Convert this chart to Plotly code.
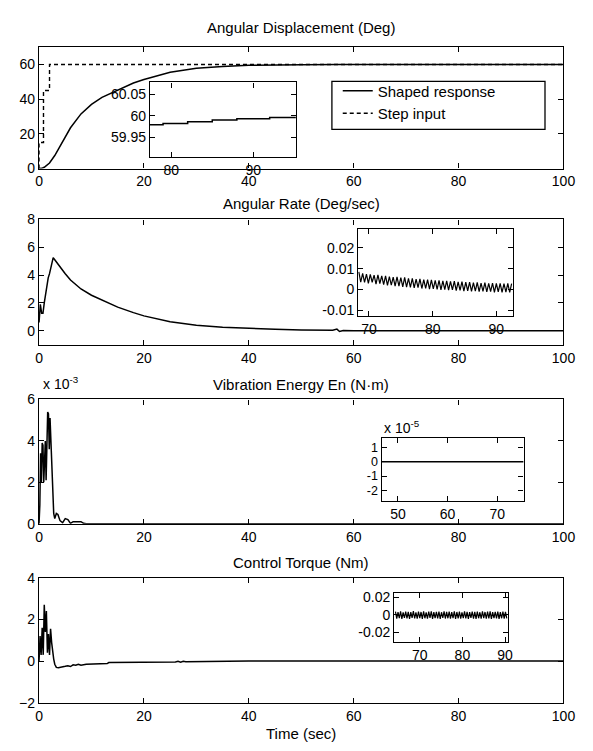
import plotly.graph_objects as go

W, H = 593, 751

# ---------------- data ----------------
# Plot 1: angular displacement (deg)
t_shaped = [0, 0.5, 1, 2, 3, 4, 5, 6, 8, 10, 12, 15, 18, 20, 25, 30, 35, 40, 45, 50, 57, 100]
y_shaped = [0, 0.1, 0.7, 3.2, 7.5, 13, 18.3, 23.5, 31.5, 37, 41, 45.3, 49.3, 51.3, 55.5, 57.8, 58.9, 59.5, 59.8, 59.9, 60, 60]
t_step = [0, 0, 0.85, 0.85, 2.0, 2.0, 100]
y_step = [0, 15, 15, 45, 45, 60, 60]
t_disp_zoom = [77.4, 79.0, 79.0, 82.0, 82.0, 85.0, 85.0, 88.0, 88.0, 92.0, 92.0, 95.2]
y_disp_zoom = [59.979, 59.979, 59.982, 59.982, 59.986, 59.986, 59.990, 59.990, 59.993, 59.993, 59.996, 59.996]

# Plot 2: angular rate (deg/sec)
t_rate = [0, 0.25, 0.5, 0.75, 1.0, 1.25, 1.5, 1.75, 2.0, 2.3, 2.7, 3.0, 3.5, 4, 5, 6, 8, 10, 12, 15, 18, 20,
          25, 30, 35, 40, 45, 50, 56, 56.8, 57.3, 58, 60, 100]
rate = [0.6, 1.9, 1.25, 1.25, 2.0, 2.6, 3.5, 3.8, 4.1, 4.7, 5.25, 5.1, 4.85, 4.55, 4.1, 3.65, 3.0, 2.55, 2.2,
        1.7, 1.3, 1.07, 0.65, 0.4, 0.25, 0.16, 0.1, 0.05, 0.03, 0.12, -0.05, 0.02, 0, 0]
t_rate_zoom = [68.4, 68.7, 69.0, 69.3, 69.6, 69.9, 70.2, 70.5, 70.8, 71.1, 71.4, 71.7, 72.0, 72.3, 72.6, 72.9,
               73.2, 73.5, 73.8, 74.1, 74.4, 74.7, 75.0, 75.3, 75.6, 75.9, 76.2, 76.5, 76.8, 77.1, 77.4, 77.7,
               78.0, 78.3, 78.6, 78.9, 79.2, 79.5, 79.8, 80.1, 80.4, 80.7, 81.0, 81.3, 81.6, 81.9, 82.2, 82.5,
               82.8, 83.1, 83.4, 83.7, 84.0, 84.3, 84.6, 84.9, 85.2, 85.5, 85.8, 86.1, 86.4, 86.7, 87.0, 87.3,
               87.6, 87.9, 88.2, 88.5, 88.8, 89.1, 89.4, 89.7, 90.0, 90.3, 90.6, 90.9, 91.2, 91.5, 91.8, 92.1, 92.4]
rate_zoom = [0.0085, 0.0036, 0.0078, 0.0034, 0.0074, 0.0030, 0.0073, 0.0035, 0.0069, 0.0026, 0.0070, 0.0029,
             0.0065, 0.0024, 0.0066, 0.0020, 0.0062, 0.0021, 0.0060, 0.0016, 0.0061, 0.0017, 0.0057, 0.0013,
             0.0058, 0.0012, 0.0054, 0.0011, 0.0054, 0.0008, 0.0050, 0.0009, 0.0051, 0.0005, 0.0047, 0.0006,
             0.0048, 0.0002, 0.0046, 0.0003, 0.0044, 0.0001, 0.0044, -0.0001, 0.0041, 0.0000, 0.0042, -0.0003,
             0.0039, -0.0002, 0.0040, -0.0005, 0.0037, -0.0004, 0.0038, -0.0007, 0.0035, -0.0006, 0.0036,
             -0.0009, 0.0033, -0.0007, 0.0034, -0.0010, 0.0031, -0.0009, 0.0033, -0.0011, 0.0030, -0.0010,
             0.0031, -0.0013, 0.0029, -0.0011, 0.0030, -0.0014, 0.0028, -0.0012, 0.0029, -0.0014, 0.0028]

# Plot 3: vibration energy (x 1e-3 N.m)
t_en = [0, 0.15, 0.3, 0.45, 0.6, 0.75, 0.9, 1.05, 1.2, 1.35, 1.5, 1.65, 1.8, 1.95, 2.1, 2.25, 2.4, 2.6, 2.8,
        3.0, 3.3, 3.6, 4.0, 4.5, 5.0, 5.5, 6.0, 6.5, 7.0, 7.5, 8.0, 8.5, 9.0, 100]
en = [0, 0.9, 3.4, 2.0, 3.9, 3.8, 2.0, 3.9, 4.0, 2.1, 4.0, 5.4, 5.3, 3.6, 5.1, 4.0, 2.4, 1.2, 0.5, 0.25,
      0.5, 0.45, 0.15, 0.05, 0.25, 0.2, 0.02, 0.1, 0.1, 0.12, 0.1, 0.02, 0, 0]
t_en_zoom = [46.7, 75.3]
en_zoom = [0, 0]  # x 1e-5

# Plot 4: control torque (Nm)
t_tq = [0, 0.2, 0.4, 0.6, 0.8, 1.0, 1.2, 1.4, 1.6, 1.8, 2.0, 2.2, 2.4, 2.6, 2.8, 3.0, 3.3, 3.7, 4.2, 5, 5.5,
        6, 6.5, 7, 7.5, 8, 9, 10, 13, 13.3, 20, 26, 26.5, 27, 27.5, 28, 40, 100]
tq = [0, 1.2, 0.3, 1.6, 0.3, 2.7, 1.4, 2.4, 0.4, 1.3, 0.3, 1.55, 0.9, 0.4, 0.1, -0.15, -0.3, -0.32, -0.28,
      -0.25, -0.22, -0.26, -0.18, -0.2, -0.15, -0.2, -0.15, -0.14, -0.12, -0.07, -0.06, -0.04, -0.01, -0.05,
      -0.01, -0.03, 0, 0]
t_tq_zoom = [64.3, 64.6, 64.9, 65.2, 65.5, 65.8, 66.1, 66.4, 66.7, 67.0, 67.3, 67.6, 67.9, 68.2, 68.5, 68.8,
             69.1, 69.4, 69.7, 70.0, 70.3, 70.6, 70.9, 71.2, 71.5, 71.8, 72.1, 72.4, 72.7, 73.0, 73.3, 73.6,
             73.9, 74.2, 74.5, 74.8, 75.1, 75.4, 75.7, 76.0, 76.3, 76.6, 76.9, 77.2, 77.5, 77.8, 78.1, 78.4,
             78.7, 79.0, 79.3, 79.6, 79.9, 80.2, 80.5, 80.8, 81.1, 81.4, 81.7, 82.0, 82.3, 82.6, 82.9, 83.2,
             83.5, 83.8, 84.1, 84.4, 84.7, 85.0, 85.3, 85.6, 85.9, 86.2, 86.5, 86.8, 87.1, 87.4, 87.7, 88.0,
             88.3, 88.6, 88.9, 89.2, 89.5, 89.8, 90.1, 90.4]
tq_zoom = [0.0035, -0.0042, 0.0031, -0.0038, 0.0040, -0.0045, 0.0028, -0.0036, 0.0037, -0.0041, 0.0033,
           -0.0047, 0.0030, -0.0035, 0.0041, -0.0040, 0.0029, -0.0044, 0.0036, -0.0037, 0.0032, -0.0046,
           0.0038, -0.0039, 0.0027, -0.0043, 0.0035, -0.0036, 0.0039, -0.0045, 0.0031, -0.0038, 0.0034,
           -0.0041, 0.0037, -0.0047, 0.0029, -0.0036, 0.0040, -0.0042, 0.0033, -0.0039, 0.0036, -0.0044,
           0.0030, -0.0037, 0.0038, -0.0046, 0.0032, -0.0040, 0.0035, -0.0043, 0.0028, -0.0038, 0.0039,
           -0.0041, 0.0034, -0.0045, 0.0031, -0.0036, 0.0037, -0.0042, 0.0033, -0.0047, 0.0036, -0.0039,
           0.0029, -0.0044, 0.0040, -0.0037, 0.0032, -0.0043, 0.0035, -0.0040, 0.0038, -0.0046, 0.0030,
           -0.0038, 0.0034, -0.0041, 0.0036, -0.0045, 0.0031, -0.0039, 0.0037, -0.0042, 0.0033, -0.0040]

main_xticks = [0, 20, 40, 60, 80, 100]

# ---------------- layout helpers ----------------
FONT = "Liberation Sans, Arial, sans-serif"
TICKFONT = dict(family=FONT, size=14, color="black")


def xdom(a, b):
    return [a / W, b / W]


def ydom(top, bottom):
    return [1 - bottom / H, 1 - top / H]


def axis(domain, rng, tickvals, anchor, ticktext=None, fontsize=14):
    d = dict(domain=domain, range=rng, tickvals=tickvals, anchor=anchor,
             ticks="inside", ticklen=5, tickwidth=1, tickcolor="black",
             showline=True, linecolor="black", linewidth=1.3, mirror="ticks",
             showgrid=False, zeroline=False,
             tickfont=dict(family=FONT, size=fontsize, color="black"), fixedrange=True)
    if ticktext is not None:
        d["ticktext"] = ticktext
    return d


main_x = [36, 575]
main_y = [(40, 164), (216, 344), (400, 527), (582, 710)]
insets = [  # (x0, x1, top, bottom)
    (150, 300, 76, 152),
    (364, 523, 226, 315),
    (388, 534, 439, 504),
    (401, 518, 598, 648),
]

fig = go.Figure()
line = dict(color="black", width=1.5)
thin = dict(color="black", width=1.2)

fig.add_trace(go.Scatter(x=t_shaped, y=y_shaped, mode="lines", line=line, name="Shaped response",
                         xaxis="x", yaxis="y"))
fig.add_trace(go.Scatter(x=t_step, y=y_step, mode="lines", name="Step input",
                         line=dict(color="black", width=1.4, dash="4px,3px"), xaxis="x", yaxis="y"))
fig.add_trace(go.Scatter(x=t_rate, y=rate, mode="lines", line=line, showlegend=False, xaxis="x2", yaxis="y2"))
fig.add_trace(go.Scatter(x=t_en, y=en, mode="lines", line=line, showlegend=False, xaxis="x3", yaxis="y3"))
fig.add_trace(go.Scatter(x=t_tq, y=tq, mode="lines", line=line, showlegend=False, xaxis="x4", yaxis="y4"))
fig.add_trace(go.Scatter(x=t_disp_zoom, y=y_disp_zoom, mode="lines", line=line, showlegend=False,
                         xaxis="x5", yaxis="y5"))
fig.add_trace(go.Scatter(x=t_rate_zoom, y=rate_zoom, mode="lines", line=thin,
                         showlegend=False, xaxis="x6", yaxis="y6"))
fig.add_trace(go.Scatter(x=t_en_zoom, y=en_zoom, mode="lines", line=line, showlegend=False,
                         xaxis="x7", yaxis="y7"))
fig.add_trace(go.Scatter(x=t_tq_zoom, y=tq_zoom, mode="lines", line=thin,
                         showlegend=False, xaxis="x8", yaxis="y8"))

lay = {}
main_yranges = [[0, 70], [-1, 8], [0, 6], [-2, 4]]
main_yticks = [[0, 20, 40, 60], [0, 2, 4, 6, 8], [0, 2, 4, 6], [-2, 0, 2, 4]]
for i in range(4):
    n = "" if i == 0 else str(i + 1)
    lay["xaxis" + n] = axis(xdom(*main_x), [0, 100], main_xticks, "y" + n)
    lay["yaxis" + n] = axis(ydom(*main_y[i]), main_yranges[i], main_yticks[i], "x" + n)

inset_xr = [[77.4, 95.2], [68.3, 92.6], [46.7, 75.3], [64.0, 90.7]]
inset_xt = [[80, 90], [70, 80, 90], [50, 60, 70], [70, 80, 90]]
inset_yr = [[59.905, 60.077], [-0.0128, 0.0289], [-2.76, 1.69], [-0.031, 0.0244]]
inset_yt = [[59.95, 60, 60.05], [-0.01, 0, 0.01, 0.02], [-2, -1, 0, 1], [-0.02, 0, 0.02]]
inset_ytt = [["59.95", "60", "60.05"], ["-0.01", "0", "0.01", "0.02"], ["-2", "-1", "0", "1"],
             ["-0.02", "0", "0.02"]]
inset_yfs = [14, 14, 12.5, 14]
for i in range(4):
    n = str(i + 5)
    x0, x1, top, bot = insets[i]
    lay["xaxis" + n] = axis(xdom(x0, x1), inset_xr[i], inset_xt[i], "y" + n)
    lay["yaxis" + n] = axis(ydom(top, bot), inset_yr[i], inset_yt[i], "x" + n, inset_ytt[i], inset_yfs[i])

shapes = []
# legend frame
shapes.append(dict(type="rect", xref="paper", yref="paper", x0=337 / W, x1=556 / W,
                   y0=1 - 124 / H, y1=1 - 75 / H, line=dict(color="black", width=1.3),
                   fillcolor="white", layer="below"))

TITLEFONT = dict(family=FONT, size=15, color="black")
cx = (main_x[0] + main_x[1]) / 2 / W
annotations = [
    dict(text="Angular Displacement (Deg)", x=cx, y=1 - 20 / H),
    dict(text="Angular Rate (Deg/sec)", x=cx, y=1 - 200 / H),
    dict(text="Vibration Energy En (N\u00b7m)", x=cx, y=1 - 385 / H),
    dict(text="Control Torque (Nm)", x=cx, y=1 - 567 / H),
    dict(text="Time (sec)", x=cx, y=1 - 741 / H),
]
for a in annotations:
    a.update(xref="paper", yref="paper", showarrow=False, xanchor="center", yanchor="middle", font=TITLEFONT)
annotations.append(dict(text="x 10<sup>-3</sup>", x=38 / W, y=1 - 383 / H, xref="paper", yref="paper",
                        showarrow=False, xanchor="left", yanchor="middle", font=TICKFONT))
annotations.append(dict(text="x 10<sup>-5</sup>", x=388 / W, y=1 - 428 / H, xref="paper", yref="paper",
                        showarrow=False, xanchor="left", yanchor="middle", font=TICKFONT))

fig.update_layout(
    width=W, height=H, margin=dict(l=0, r=0, t=0, b=0),
    paper_bgcolor="white", plot_bgcolor="white",
    font=dict(family=FONT, size=14, color="black"),
    showlegend=True,
    legend=dict(x=343 / W, y=1 - 68 / H, xanchor="left", yanchor="top", bgcolor="rgba(0,0,0,0)",
                borderwidth=0, font=dict(family=FONT, size=15, color="black"), tracegroupgap=0),
    shapes=shapes, annotations=annotations,
    **lay,
)

fig.write_html("out.html")
